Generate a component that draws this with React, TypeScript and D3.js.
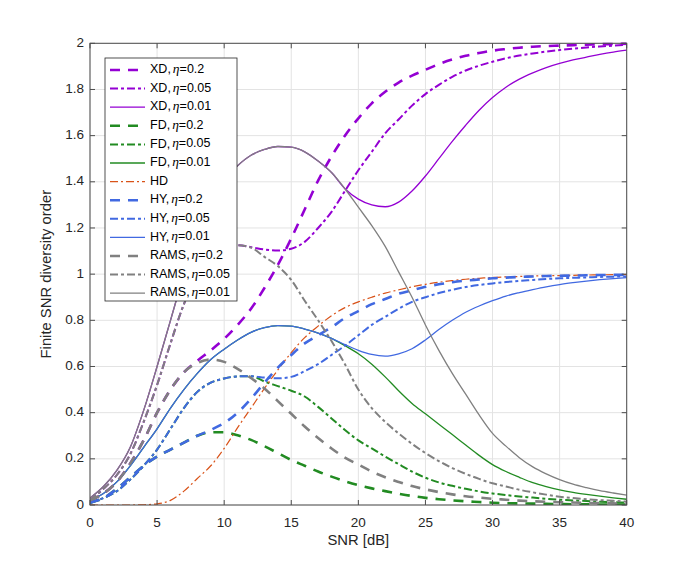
import React from 'react';
import * as d3 from 'd3';

// SNR grid [dB]
const snr = [0, 1, 2, 3, 4, 5, 6, 7, 8, 9, 10, 11, 12, 13, 14, 15, 16, 17, 18, 19, 20,
  21, 22, 23, 24, 25, 26, 27, 28, 29, 30, 31, 32, 33, 34, 35, 36, 37, 38, 39, 40];

const xTicks = [0, 5, 10, 15, 20, 25, 30, 35, 40];
const yTicks = [0, 0.2, 0.4, 0.6, 0.8, 1, 1.2, 1.4, 1.6, 1.8, 2];

// diversity order
const xd02 = [0.02, 0.05, 0.1, 0.18, 0.28, 0.4, 0.5, 0.575, 0.625, 0.67, 0.72, 0.78, 0.85, 0.94, 1.04, 1.155, 1.28, 1.405, 1.51, 1.6, 1.675,
  1.74, 1.79, 1.83, 1.86, 1.885, 1.91, 1.93, 1.946, 1.958, 1.968, 1.975, 1.981, 1.985, 1.988, 1.99, 1.992, 1.994, 1.996, 1.997, 1.998];
const xd005 = [0.02, 0.07, 0.13, 0.22, 0.36, 0.52, 0.7, 0.87, 0.99, 1.07, 1.11, 1.125, 1.117, 1.107, 1.102, 1.11, 1.14, 1.2, 1.27, 1.36, 1.45,
  1.53, 1.61, 1.67, 1.73, 1.78, 1.82, 1.855, 1.882, 1.903, 1.92, 1.935, 1.947, 1.956, 1.964, 1.971, 1.977, 1.982, 1.986, 1.99, 1.993];
const xd001 = [0.03, 0.08, 0.15, 0.25, 0.41, 0.6, 0.8, 1.0, 1.18, 1.32, 1.41, 1.47, 1.515, 1.54, 1.553, 1.55, 1.53, 1.49, 1.44, 1.37, 1.325,
  1.3, 1.292, 1.312, 1.36, 1.425, 1.5, 1.575, 1.645, 1.71, 1.765, 1.81, 1.845, 1.872, 1.895, 1.913, 1.928, 1.94, 1.952, 1.962, 1.97];

const fd02 = [0.01, 0.03, 0.07, 0.12, 0.17, 0.21, 0.24, 0.27, 0.3, 0.315, 0.315, 0.302, 0.282, 0.255, 0.225, 0.195, 0.17, 0.145, 0.123, 0.103, 0.086,
  0.072, 0.06, 0.049, 0.039, 0.031, 0.025, 0.02, 0.016, 0.013, 0.01, 0.008, 0.007, 0.006, 0.005, 0.004, 0.003, 0.003, 0.002, 0.002, 0.002];
const fd005 = [0.01, 0.03, 0.06, 0.11, 0.17, 0.24, 0.33, 0.42, 0.49, 0.53, 0.548, 0.557, 0.558, 0.535, 0.515, 0.495, 0.47, 0.425, 0.375, 0.325, 0.28,
  0.245, 0.21, 0.177, 0.145, 0.118, 0.098, 0.083, 0.07, 0.059, 0.05, 0.043, 0.037, 0.032, 0.027, 0.023, 0.02, 0.017, 0.014, 0.012, 0.01];
const fd001 = [0.02, 0.05, 0.1, 0.17, 0.25, 0.33, 0.42, 0.5, 0.57, 0.63, 0.675, 0.715, 0.748, 0.768, 0.777, 0.775, 0.762, 0.745, 0.722, 0.69, 0.655,
  0.61, 0.555, 0.495, 0.44, 0.395, 0.35, 0.305, 0.26, 0.215, 0.175, 0.145, 0.12, 0.097, 0.08, 0.066, 0.055, 0.046, 0.038, 0.031, 0.025];

const hd = [0, 0, 0, 0, 0.001, 0.005, 0.02, 0.06, 0.115, 0.17, 0.245, 0.335, 0.42, 0.505, 0.585, 0.66, 0.725, 0.775, 0.82, 0.855, 0.88,
  0.9, 0.918, 0.932, 0.945, 0.956, 0.965, 0.972, 0.978, 0.982, 0.986, 0.988, 0.99, 0.992, 0.993, 0.994, 0.995, 0.996, 0.997, 0.998, 0.998];

const hy02 = [0.01, 0.03, 0.07, 0.12, 0.17, 0.21, 0.24, 0.27, 0.3, 0.325, 0.355, 0.4, 0.46, 0.53, 0.595, 0.65, 0.7, 0.735, 0.77, 0.81, 0.84,
  0.87, 0.892, 0.915, 0.93, 0.945, 0.956, 0.965, 0.972, 0.977, 0.982, 0.985, 0.988, 0.99, 0.992, 0.993, 0.994, 0.995, 0.996, 0.997, 0.997];
const hy005 = [0.01, 0.03, 0.06, 0.11, 0.17, 0.24, 0.33, 0.42, 0.49, 0.53, 0.548, 0.557, 0.558, 0.552, 0.549, 0.555, 0.58, 0.61, 0.65, 0.69, 0.735,
  0.78, 0.815, 0.85, 0.88, 0.9, 0.918, 0.932, 0.944, 0.953, 0.96, 0.966, 0.971, 0.975, 0.979, 0.982, 0.984, 0.986, 0.988, 0.989, 0.99];
const hy001 = [0.02, 0.05, 0.1, 0.17, 0.25, 0.33, 0.42, 0.5, 0.57, 0.63, 0.675, 0.715, 0.748, 0.768, 0.777, 0.775, 0.762, 0.745, 0.722, 0.695, 0.67,
  0.652, 0.645, 0.655, 0.677, 0.715, 0.76, 0.8, 0.835, 0.862, 0.885, 0.905, 0.92, 0.933, 0.945, 0.955, 0.963, 0.97, 0.976, 0.981, 0.985];

const rams02 = [0.02, 0.05, 0.1, 0.18, 0.28, 0.4, 0.5, 0.575, 0.615, 0.63, 0.62, 0.59, 0.55, 0.505, 0.45, 0.395, 0.34, 0.29, 0.245, 0.205, 0.175,
  0.145, 0.12, 0.1, 0.082, 0.068, 0.056, 0.046, 0.038, 0.032, 0.027, 0.023, 0.019, 0.016, 0.014, 0.012, 0.011, 0.009, 0.008, 0.007, 0.006];
const rams005 = [0.02, 0.07, 0.13, 0.22, 0.36, 0.52, 0.7, 0.87, 0.99, 1.07, 1.11, 1.125, 1.115, 1.075, 1.035, 0.975, 0.885, 0.8, 0.71, 0.61, 0.5,
  0.42, 0.36, 0.31, 0.265, 0.225, 0.19, 0.16, 0.135, 0.113, 0.094, 0.08, 0.066, 0.055, 0.045, 0.036, 0.03, 0.025, 0.021, 0.018, 0.015];
const rams001 = [0.03, 0.08, 0.15, 0.25, 0.41, 0.6, 0.8, 1.0, 1.18, 1.32, 1.41, 1.47, 1.515, 1.54, 1.553, 1.55, 1.53, 1.49, 1.44, 1.37, 1.29,
  1.21, 1.12, 1.01, 0.9, 0.78, 0.67, 0.57, 0.48, 0.39, 0.31, 0.255, 0.205, 0.165, 0.135, 0.11, 0.09, 0.075, 0.062, 0.052, 0.043];

const PURPLE = '#9400D3';
const GREEN = '#228B22';
const ORANGE = '#D95319';
const BLUE = '#4169E1';
const GRAY = '#808080';

type Style = 'dash' | 'dashdot' | 'solid' | 'thin';

interface Series {
  name: string;
  eta: string | null;
  values: number[];
  color: string;
  style: Style;
}

const series: Series[] = [
  { name: 'XD', eta: '0.2', values: xd02, color: PURPLE, style: 'dash' },
  { name: 'XD', eta: '0.05', values: xd005, color: PURPLE, style: 'dashdot' },
  { name: 'XD', eta: '0.01', values: xd001, color: PURPLE, style: 'solid' },
  { name: 'FD', eta: '0.2', values: fd02, color: GREEN, style: 'dash' },
  { name: 'FD', eta: '0.05', values: fd005, color: GREEN, style: 'dashdot' },
  { name: 'FD', eta: '0.01', values: fd001, color: GREEN, style: 'solid' },
  { name: 'HD', eta: null, values: hd, color: ORANGE, style: 'thin' },
  { name: 'HY', eta: '0.2', values: hy02, color: BLUE, style: 'dash' },
  { name: 'HY', eta: '0.05', values: hy005, color: BLUE, style: 'dashdot' },
  { name: 'HY', eta: '0.01', values: hy001, color: BLUE, style: 'solid' },
  { name: 'RAMS', eta: '0.2', values: rams02, color: GRAY, style: 'dash' },
  { name: 'RAMS', eta: '0.05', values: rams005, color: GRAY, style: 'dashdot' },
  { name: 'RAMS', eta: '0.01', values: rams001, color: GRAY, style: 'solid' },
];

const strokeFor = (s: Style) => {
  if (s === 'dash') return { width: 2.6, dash: '10 8' };
  if (s === 'dashdot') return { width: 2, dash: '8 3 3 3' };
  if (s === 'thin') return { width: 1.2, dash: '8 3 2 3' };
  return { width: 1.3, dash: undefined };
};

const W = 692;
const H = 567;
const FONT = '"Liberation Sans", Arial, Helvetica, sans-serif';

export default function App() {
  const x = d3.scaleLinear().domain([0, 40]).range([90, 626.7]);
  const y = d3.scaleLinear().domain([0, 2]).range([505, 43.3]);
  const [x0, x1] = x.range();
  const [y0, y1] = y.range();

  const line = d3.line<number>()
    .x((_, i) => x(snr[i]))
    .y(d => y(d))
    .curve(d3.curveMonotoneX);

  const legX = 105, legY = 58, legW = 132, legH = 243;
  const rowH = 18.6;

  return (
    <svg width={W} height={H} style={{ position: 'absolute', left: 0, top: 0, background: '#fff' }}
      fontFamily={FONT}>
      <rect x={0} y={0} width={W} height={H} fill="#fff" />
      {/* grid */}
      <g stroke="#e3e3e3" strokeWidth={1}>
        {xTicks.map(t => <line key={'gx' + t} x1={x(t)} x2={x(t)} y1={y0} y2={y1} />)}
        {yTicks.map(t => <line key={'gy' + t} x1={x0} x2={x1} y1={y(t)} y2={y(t)} />)}
      </g>

      {/* curves */}
      <defs>
        <clipPath id="plotClip">
          <rect x={x0} y={y1 - 2} width={x1 - x0} height={y0 - y1 + 2} />
        </clipPath>
      </defs>
      <g clipPath="url(#plotClip)" fill="none">
        {series.map((s, i) => {
          const st = strokeFor(s.style);
          return (
            <path key={i} d={line(s.values) || ''} stroke={s.color} strokeWidth={st.width}
              strokeDasharray={st.dash} strokeLinejoin="round" />
          );
        })}
      </g>

      {/* axes box and ticks */}
      <g stroke="#4d4d4d" strokeWidth={1} fill="none">
        <rect x={x0} y={y1} width={x1 - x0} height={y0 - y1} />
        {xTicks.map(t => (
          <g key={'tx' + t}>
            <line x1={x(t)} x2={x(t)} y1={y0} y2={y0 - 5} />
            <line x1={x(t)} x2={x(t)} y1={y1} y2={y1 + 5} />
          </g>
        ))}
        {yTicks.map(t => (
          <g key={'ty' + t}>
            <line x1={x0} x2={x0 + 5} y1={y(t)} y2={y(t)} />
            <line x1={x1} x2={x1 - 5} y1={y(t)} y2={y(t)} />
          </g>
        ))}
      </g>
      <g fill="#262626" fontSize={13.5}>
        {xTicks.map(t => (
          <text key={'lx' + t} x={x(t)} y={y0 + 18} textAnchor="middle" dominantBaseline="middle">{t}</text>
        ))}
        {yTicks.map(t => (
          <text key={'ly' + t} x={x0 - 6} y={y(t)} textAnchor="end" dominantBaseline="middle">{String(t)}</text>
        ))}
        <text x={(x0 + x1) / 2} y={541} textAnchor="middle" dominantBaseline="middle" fontSize={14.8}>SNR [dB]</text>
        <text transform={`translate(47,${(y0 + y1) / 2}) rotate(-90)`} textAnchor="middle" dominantBaseline="middle"
          fontSize={14.8}>Finite SNR diversity order</text>
      </g>

      {/* legend */}
      <g>
        <rect x={legX} y={legY} width={legW} height={legH} fill="#fff" stroke="#262626" strokeWidth={0.8} />
        {series.map((s, i) => {
          const st = strokeFor(s.style);
          const cy = legY + 12 + i * rowH;
          return (
            <g key={'lg' + i}>
              <line x1={legX + 5} x2={legX + 40} y1={cy} y2={cy} stroke={s.color} strokeWidth={st.width}
                strokeDasharray={st.dash} />
              <text x={legX + 45} y={cy} dominantBaseline="middle" fontSize={12.5} fill="#000">
                {s.name}{s.eta ? ',' : ''}
                {s.eta && <tspan dx={2} fontFamily='"Liberation Serif", serif' fontStyle="italic" fontSize={13.5}>η</tspan>}
                {s.eta && <tspan>={s.eta}</tspan>}
              </text>
            </g>
          );
        })}
      </g>
    </svg>
  );
}
